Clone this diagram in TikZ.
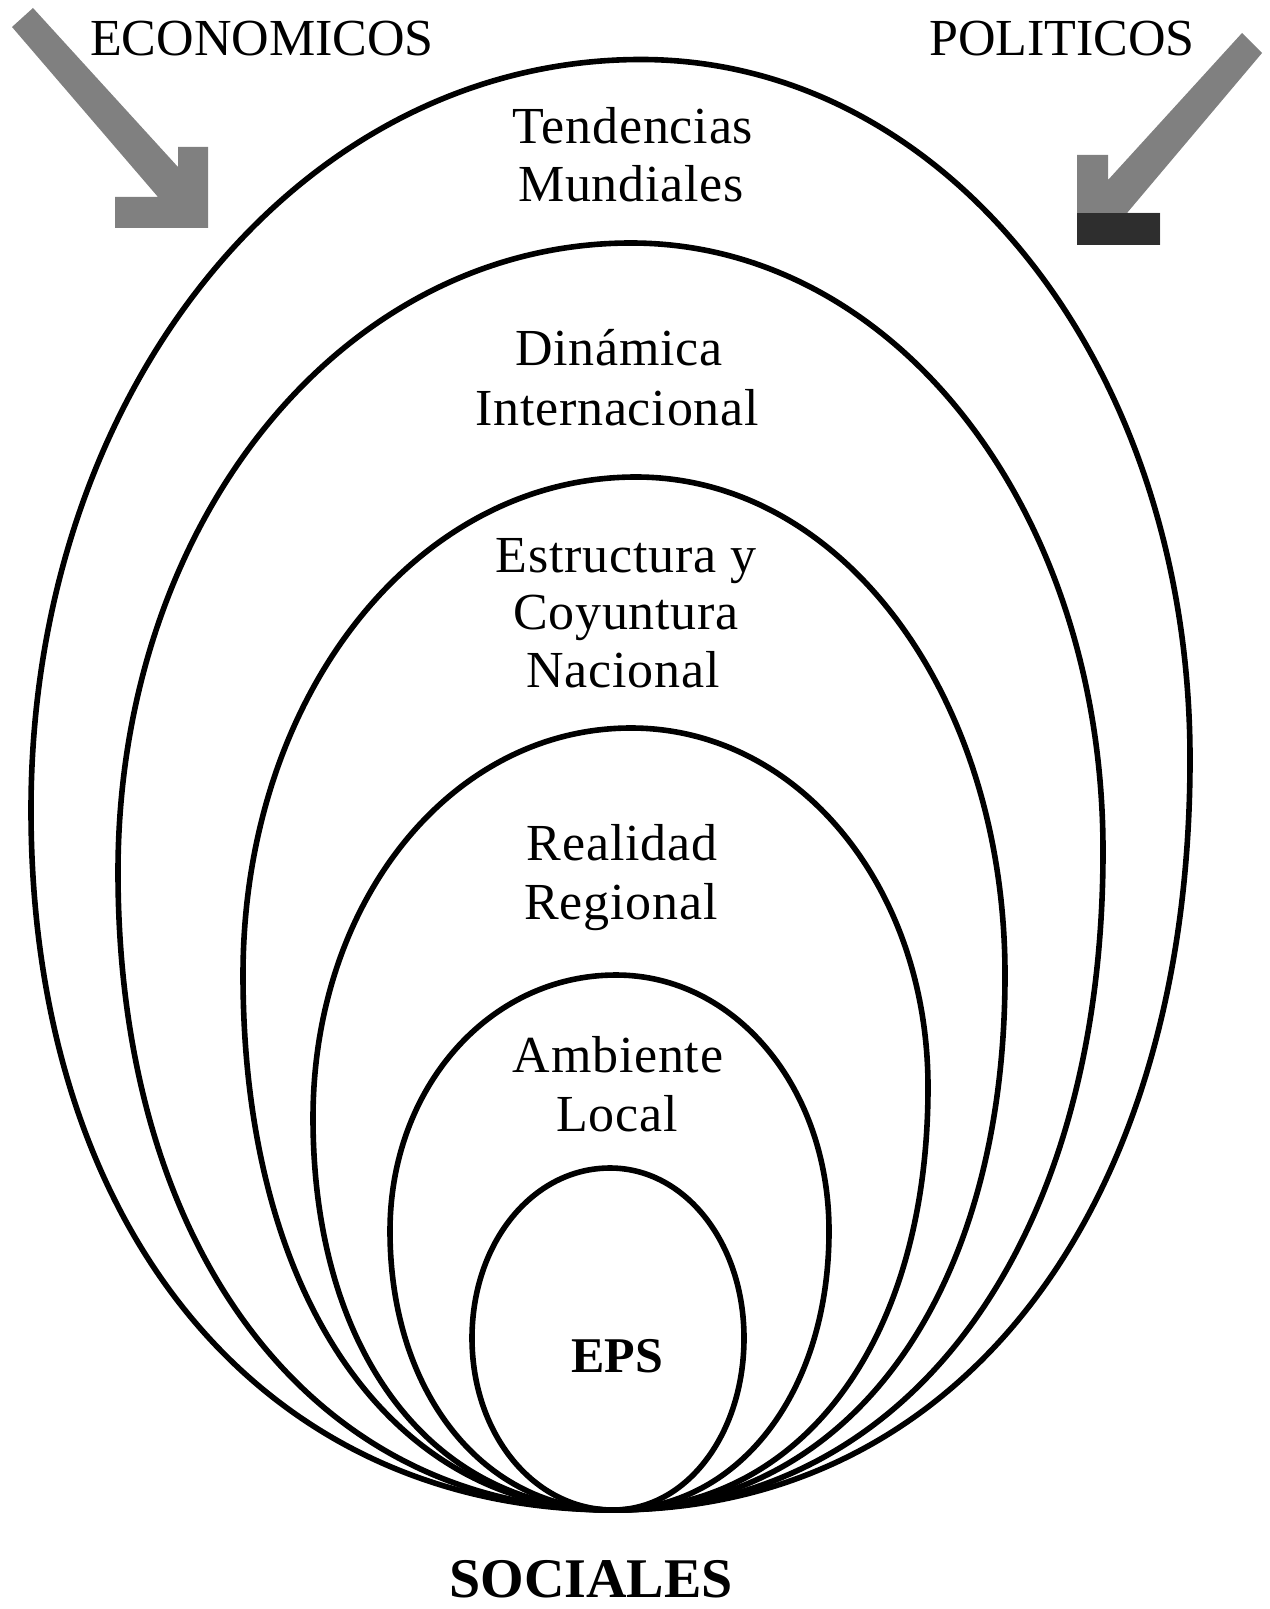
\documentclass[tikz,border=0pt]{standalone}
\usepackage{fontspec}
\setmainfont{Liberation Serif}
\begin{document}
\newcommand{\eggcurve}[8]{%
 % #1 lx, #2 ly, #3 tx, #4 ty, #5 rx, #6 ry, #7 kb, #8 kt ; bottom at (B)
 \draw[eggline] (B) .. controls ({613-#7*(613-#1)},1510) and (#1,{#2+#7*(1510-#2)}) .. (#1,#2)
   .. controls (#1,{#2-#8*(#2-#4)}) and ({#3-#8*(#3-#1)},#4) .. (#3,#4)
   .. controls ({#3+#8*(#5-#3)},#4) and (#5,{#6-#8*(#6-#4)}) .. (#5,#6)
   .. controls (#5,{#6+#7*(1510-#6)}) and ({613+#7*(#5-613)},1510) .. (B);
}
\begin{tikzpicture}[x=0.5pt,y=-0.5pt,
  eggline/.style={line width=2.8pt, draw=black},
  lbl/.style={font=\fontsize{26}{30}\selectfont\addfontfeature{LetterSpace=1.5}, anchor=base, inner sep=0pt},
  side/.style={font=\fontsize{26}{30}\selectfont, anchor=base, inner sep=0pt},
  boldlbl/.style={font=\fontsize{27}{30}\selectfont\bfseries, anchor=base, inner sep=0pt},
  arrowfill/.style={fill=black!50, draw=none},
  arrowdark/.style={fill=black!82, draw=none}]
\useasboundingbox (0,0) rectangle (1269,1609);
\coordinate (B) at (613,1510);

% nested egg shapes, all touching at the bottom
\eggcurve{31}{810}{641}{59.5}{1190}{759}{0.6}{0.56}
\eggcurve{118}{872}{631}{243}{1103}{851}{0.6}{0.56}
\eggcurve{243}{975}{636}{477}{1005}{975}{0.6}{0.56}
\eggcurve{313}{1118}{631}{728}{928}{1087}{0.6}{0.56}
\eggcurve{390}{1231}{616}{975}{829}{1231}{0.58}{0.56}
\eggcurve{472}{1338}{610}{1168}{744}{1338}{0.56}{0.56}

% arrows
\fill[arrowfill] (33,8) -- (178,167) -- (178,147) -- (208,147) -- (208,228) -- (115,228) -- (115,197) -- (158,197) -- (12,27) -- cycle;
\fill[arrowfill] (1242,33) -- (1108,180) -- (1108,155) -- (1077,155) -- (1077,245) -- (1160,245) -- (1160,213) -- (1127,213) -- (1262,53) -- cycle;
\fill[arrowdark] (1077,213) rectangle (1160,245);

% side labels
\node[side] (eco) at (262,56) {ECONOMICOS};
\node[side] (pol) at (1062,56) {POLITICOS};
\node[boldlbl, font=\fontsize{28}{30}\selectfont\bfseries] (soc) at (591,1597) {SOCIALES};

% ring labels
\node[lbl] (t1a) at (633,144) {Tendencias};
\node[lbl] (t1b) at (631,202) {Mundiales};
\node[lbl] (t2a) at (619,366) {Dinámica};
\node[lbl] (t2b) at (617,426) {Internacional};
\node[lbl] (t3a) at (626,572) {Estructura y};
\node[lbl] (t3b) at (626,629) {Coyuntura};
\node[lbl] (t3c) at (623,687) {Nacional};
\node[lbl] (t4a) at (622,860) {Realidad};
\node[lbl] (t4b) at (621,919) {Regional};
\node[lbl] (t5a) at (618,1072) {Ambiente};
\node[lbl] (t5b) at (617,1131) {Local};
\node[boldlbl, font=\fontsize{25}{30}\selectfont\bfseries] (eps) at (617,1372) {EPS};
\end{tikzpicture}
\end{document}
